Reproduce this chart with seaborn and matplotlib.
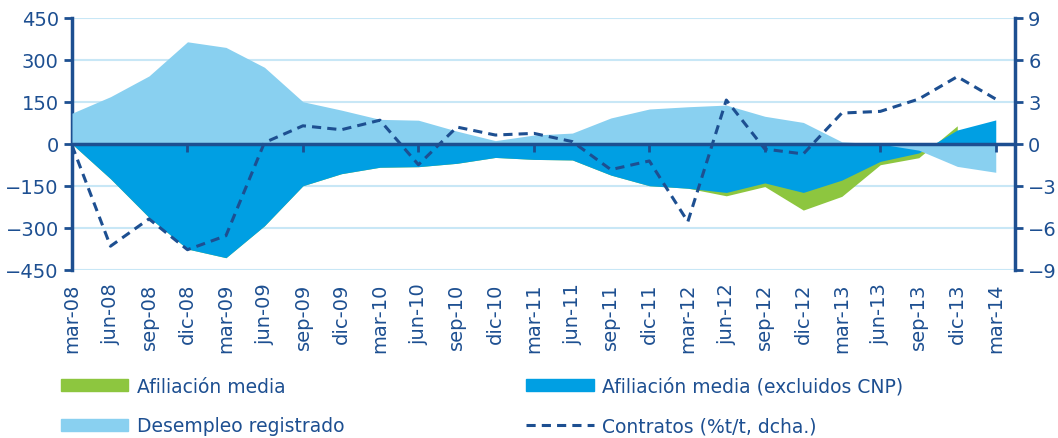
import numpy as np
import pandas as pd
import matplotlib
matplotlib.use("Agg")
import matplotlib.pyplot as plt
import seaborn as sns
from matplotlib.patches import Patch
from matplotlib.lines import Line2D

# Data (miles de personas, variación trimestral / %t/t)
periodos = ["mar-08", "jun-08", "sep-08", "dic-08", "mar-09", "jun-09", "sep-09", "dic-09",
            "mar-10", "jun-10", "sep-10", "dic-10", "mar-11", "jun-11", "sep-11", "dic-11",
            "mar-12", "jun-12", "sep-12", "dic-12", "mar-13", "jun-13", "sep-13", "dic-13",
            "mar-14"]
afiliacion = [0, -124, -262, -375, -406, -292, -149, -106, -83, -81, -69, -48, -55, -57,
              -111, -149, -158, -185, -152, -236, -187, -74, -49, 65, np.nan]
afiliacion_sin_cnp = [0, -124, -262, -375, -406, -292, -149, -106, -83, -81, -69, -48, -55,
                      -57, -111, -149, -158, -173, -139, -173, -129, -62, -32, 50, 86]
desempleo = [110, 169, 243, 365, 345, 274, 151, 121, 88, 85, 46, 12, 32, 39, 93, 125, 133,
             139, 99, 77, 8, 0, -22, -80, -101]
contratos = [-0.1, -7.3, -5.35, -7.55, -6.55, 0.1, 1.3, 1.02, 1.7, -1.48, 1.21, 0.64, 0.76,
             0.17, -1.83, -1.21, -5.55, 3.14, -0.36, -0.71, 2.21, 2.33, 3.21, 4.81, 3.21]

navy = "#1D4F91"
verde = "#8DC63F"
azul = "#009FE3"
celeste = "#89D0F0"
rejilla = "#C8E7F6"

df = pd.DataFrame({"periodo": periodos, "afiliacion": afiliacion,
                   "sin_cnp": afiliacion_sin_cnp, "desempleo": desempleo,
                   "contratos": contratos})
df["x"] = range(len(df))

sns.set_style("white")
plt.rcParams["font.family"] = ["DejaVu Sans"]

fig = plt.figure(figsize=(10.58, 4.39), dpi=100)
ax = fig.add_axes([72 / 1058, 1 - 271 / 439, (1015 - 72) / 1058, 252 / 439])

for v in range(-450, 451, 150):
    ax.axhline(v, color=rejilla, lw=1.5, zorder=0)

ax.fill_between(df["x"], 0, df["afiliacion"], color=verde, lw=0, zorder=1)
ax.fill_between(df["x"], 0, df["sin_cnp"], color=azul, lw=0, zorder=2)
ax.fill_between(df["x"], 0, df["desempleo"], color=celeste, lw=0, zorder=3)
ax.axhline(0, color=navy, lw=2.5, zorder=4)

ax.set_xlim(0, 24.5)
ax.set_ylim(-450, 450)
ax.set_yticks(range(-450, 451, 150))
ax.set_xticks(df["x"])
ax.set_xticklabels(df["periodo"], rotation=90, fontsize=14, color=navy)
ax.tick_params(axis="x", length=0, pad=9)
ax.tick_params(axis="y", colors=navy, labelsize=14, length=6, width=2, direction="out")
for s in ["top", "bottom"]:
    ax.spines[s].set_visible(False)
ax.spines["left"].set_color(navy)
ax.spines["left"].set_linewidth(2.5)
ax.spines["right"].set_visible(False)

# eje de ceros con marcas cada 3 trimestres (hacia abajo)
sec = ax.secondary_xaxis(0.5)
sec.set_xticks(df["x"][::3])
sec.set_xticklabels([])
sec.tick_params(length=6, width=2, color=navy, direction="in")
for s in sec.spines.values():
    s.set_visible(False)
sec.set_zorder(10)

ax2 = ax.twinx()
sns.lineplot(data=df, x="x", y="contratos", ax=ax2, color=navy, lw=2.2,
             linestyle=(0, (3, 2)), zorder=5)
ax2.set_ylim(-9, 9)
ax2.set_yticks(range(-9, 10, 3))
ax2.set_ylabel("")
ax2.set_xlabel("")
ax.set_xlabel("")
ax2.tick_params(axis="y", colors=navy, labelsize=14, length=6, width=2, direction="out")
for s in ["top", "bottom", "left"]:
    ax2.spines[s].set_visible(False)
ax2.spines["right"].set_color(navy)
ax2.spines["right"].set_linewidth(2.5)

handles = [Patch(color=verde, label="Afiliación media"),
           Patch(color=celeste, label="Desempleo registrado"),
           Patch(color=azul, label="Afiliación media (excluidos CNP)"),
           Line2D([], [], color=navy, lw=2.2, linestyle=(0, (3, 2)),
                  label="Contratos (%t/t, dcha.)")]
leg = fig.legend(handles=handles, loc="upper left", bbox_to_anchor=(44 / 1058, 1 - 361 / 439),
                 ncol=2, frameon=False, fontsize=13.5, handlelength=3.6, handleheight=0.6,
                 columnspacing=9.7, labelspacing=1.1, handletextpad=0.45)
for t in leg.get_texts():
    t.set_color(navy)

fig.savefig("out.png", dpi=100)
